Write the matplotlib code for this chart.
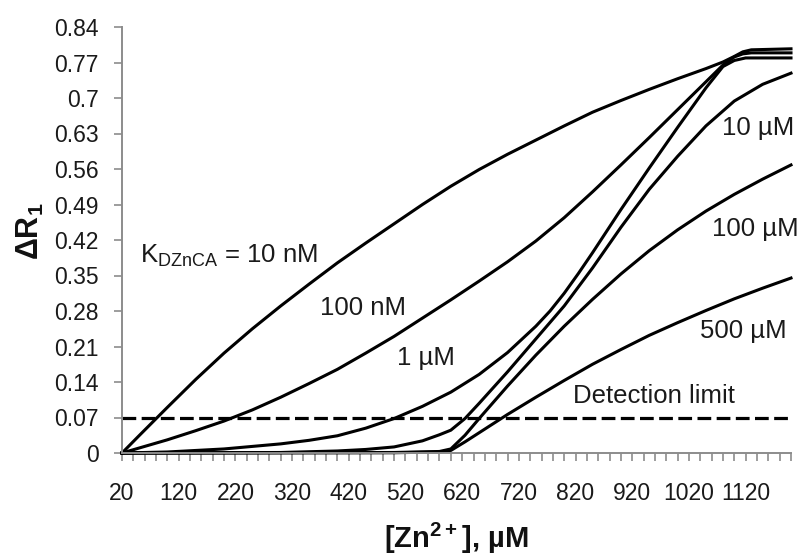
import matplotlib
matplotlib.use("Agg")
import matplotlib.pyplot as plt
from matplotlib import font_manager
from matplotlib.ticker import FixedLocator, FixedFormatter

# ---------------- data ----------------
zn_10nM = [20, 50, 100, 150, 200, 250, 300, 350, 400, 450, 500, 550, 600, 650, 700,
           750, 800, 850, 900, 950, 1000, 1050, 1080, 1100, 1115, 1130, 1200]
dr_10nM = [0, 0.034, 0.09, 0.145, 0.197, 0.245, 0.29, 0.333, 0.375, 0.414, 0.452, 0.49,
           0.526, 0.559, 0.589, 0.617, 0.645, 0.672, 0.695, 0.717, 0.738, 0.758, 0.771,
           0.782, 0.791, 0.795, 0.797]

zn_100nM = [20, 100, 150, 200, 250, 300, 350, 400, 450, 500, 550, 600, 650, 700, 750,
            800, 850, 900, 950, 1000, 1050, 1080, 1100, 1115, 1130, 1200]
dr_100nM = [0, 0.026, 0.044, 0.063, 0.085, 0.11, 0.137, 0.165, 0.197, 0.23, 0.266, 0.302,
            0.339, 0.377, 0.418, 0.464, 0.515, 0.568, 0.622, 0.677, 0.732, 0.765, 0.781,
            0.787, 0.789, 0.789]

zn_1uM = [20, 100, 200, 300, 350, 400, 450, 500, 550, 600, 650, 700, 750, 775, 800, 825,
          850, 900, 950, 1000, 1050, 1080, 1100, 1120, 1200]
dr_1uM = [0, 0.002, 0.008, 0.018, 0.025, 0.034, 0.049, 0.068, 0.092, 0.12, 0.155, 0.198,
          0.25, 0.28, 0.315, 0.354, 0.395, 0.48, 0.562, 0.642, 0.72, 0.762, 0.774, 0.779,
          0.779]

zn_10uM = [20, 300, 400, 450, 500, 550, 580, 600, 625, 650, 700, 750, 800, 850, 900, 950,
           1000, 1050, 1100, 1150, 1200]
dr_10uM = [0, 0.001, 0.004, 0.007, 0.012, 0.024, 0.036, 0.045, 0.068, 0.098, 0.16, 0.225,
           0.29, 0.365, 0.445, 0.52, 0.585, 0.645, 0.694, 0.727, 0.749]

zn_100uM = [20, 500, 580, 600, 625, 650, 700, 750, 800, 850, 900, 950, 1000, 1050, 1100,
            1150, 1200]
dr_100uM = [0, 0.001, 0.003, 0.008, 0.035, 0.068, 0.132, 0.193, 0.25, 0.303, 0.353, 0.399,
            0.44, 0.477, 0.51, 0.54, 0.568]

zn_500uM = [20, 500, 580, 600, 625, 650, 700, 750, 800, 850, 900, 950, 1000, 1050, 1100,
            1150, 1200]
dr_500uM = [0, 0.0005, 0.002, 0.005, 0.022, 0.04, 0.076, 0.11, 0.143, 0.175, 0.204, 0.232,
            0.257, 0.281, 0.304, 0.325, 0.345]

detection_limit = 0.07

y_ticks = [0, 0.07, 0.14, 0.21, 0.28, 0.35, 0.42, 0.49, 0.56, 0.63, 0.7, 0.77, 0.84]
y_tick_labels = ["0", "0.07", "0.14", "0.21", "0.28", "0.35", "0.42", "0.49", "0.56",
                 "0.63", "0.7", "0.77", "0.84"]
x_ticks = [20, 120, 220, 320, 420, 520, 620, 720, 820, 920, 1020, 1120]
x_tick_labels = ["20", "120", "220", "320", "420", "520", "620", "720", "820", "920",
                 "1020", "1120"]

curve_labels = [
    (52, 0.375, r"K$_\mathregular{DZnCA}$ = 10 nM"),
    (369, 0.272, "100 nM"),
    (505, 0.1735, "1 \u00b5M"),
    (1078, 0.627, "10 \u00b5M"),
    (1061, 0.428, "100 \u00b5M"),
    (1039, 0.227, "500 \u00b5M"),
    (815, 0.0986, "Detection limit"),
]

# ---------------- fonts ----------------
names = {f.name for f in font_manager.fontManager.ttflist}
if "Liberation Sans Narrow" in names:
    ann_family = ["Liberation Sans Narrow", "DejaVu Sans"]
    ann_size = 21.5
else:
    ann_family = ["Liberation Sans", "DejaVu Sans"]
    ann_size = 18.5
plt.rcParams["font.family"] = ["Liberation Sans", "DejaVu Sans"]

# ---------------- figure ----------------
W, H = 801, 559
fig = plt.figure(figsize=(W / 100, H / 100), dpi=100)
ax = fig.add_axes([122 / W, (H - 453) / H, 669 / W, 426 / H])

series = [(zn_10nM, dr_10nM), (zn_100nM, dr_100nM), (zn_1uM, dr_1uM),
          (zn_10uM, dr_10uM), (zn_100uM, dr_100uM), (zn_500uM, dr_500uM)]
for xs, ys in series:
    ax.plot(xs, ys, color="black", lw=2.2, solid_joinstyle="round", clip_on=False)

ax.axhline(detection_limit, color="black", lw=2.3, dashes=(4.3, 1.7))

ax.set_xlim(20, 1200)
ax.set_ylim(0, 0.84)

for s in ("top", "right"):
    ax.spines[s].set_visible(False)
for s in ("left", "bottom"):
    ax.spines[s].set_color("#8c8c8c")
    ax.spines[s].set_linewidth(1.4)

ax.yaxis.set_major_locator(FixedLocator(y_ticks))
ax.yaxis.set_major_formatter(FixedFormatter(y_tick_labels))
ax.xaxis.set_major_locator(FixedLocator(x_ticks))
ax.xaxis.set_major_formatter(FixedFormatter(x_tick_labels))
ax.xaxis.set_minor_locator(FixedLocator(list(range(20, 1201, 20))))

ax.tick_params(axis="both", which="both", direction="out", color="#8c8c8c",
               width=1.2, length=6, labelsize=16.5, labelcolor="#1a1a1a", pad=11)
ax.tick_params(axis="x", which="both", pad=15)

for x, y, t in curve_labels:
    ax.text(x, y, t, ha="left", va="baseline", fontsize=ann_size,
            family=ann_family, color="#1a1a1a")

fig.text(30 / W, 1 - 231 / H, "\u0394R$_\\mathregular{1}$", rotation=90,
         ha="center", va="center", fontsize=22, fontweight="bold", color="#111111")
fig.text(456 / W, 1 - 538 / H, "[Zn$^\\mathregular{2+}$], \u00b5M",
         ha="center", va="center", fontsize=21, fontweight="bold", color="#111111")

fig.savefig("out.png", dpi=100)
